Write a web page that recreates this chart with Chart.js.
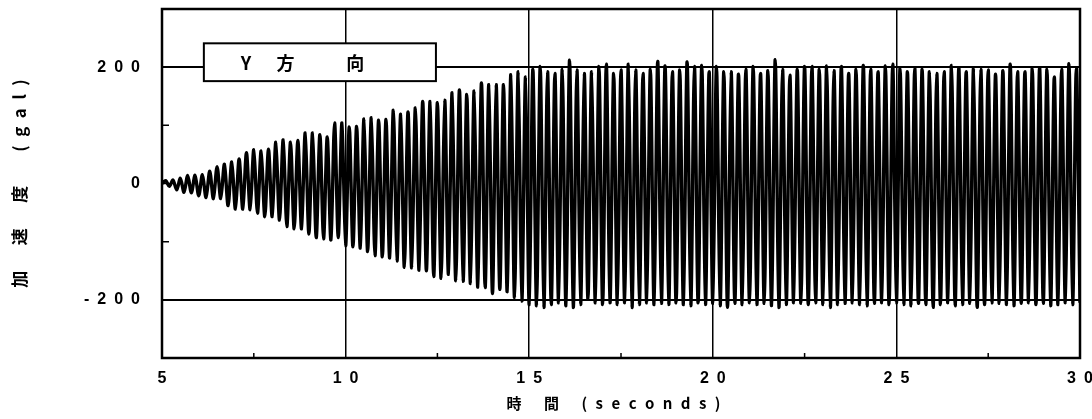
<!DOCTYPE html>
<html lang="ja">
<head>
<meta charset="utf-8"/>
<title>加速度 Y方向</title>
<script src="https://cdn.jsdelivr.net/npm/chart.js@4.4.0/dist/chart.umd.min.js"></script>
<style>
  html, body { margin: 0; padding: 0; background: #fff; }
  #wrap { width: 1092px; height: 419px; }
</style>
</head>
<body>
<div id="wrap"><canvas id="accChart" width="1092" height="419"></canvas></div>
<script>
// 正側ピーク (gal) : 5.1 秒から 0.2 秒ごと
const peaks = [
  5, 6, 9, 14, 14, 15, 21, 29, 33, 37, 42, 53, 58, 56, 59, 71, 75, 71, 74, 87, 87, 84, 80, 104, 104,
  97, 98, 111, 113, 109, 110, 126, 119, 123, 130, 141, 141, 139, 143, 156, 161, 153, 159, 173, 170, 170, 170, 187, 192, 183,
  196, 201, 192, 189, 196, 212, 195, 189, 192, 201, 205, 189, 195, 205, 195, 189, 196, 210, 202, 192, 195, 209, 201, 203, 192,
  201, 192, 192, 188, 196, 201, 189, 194, 213, 196, 186, 196, 201, 201, 196, 202, 194, 201, 189, 196, 203, 196, 192, 202, 205,
  198, 192, 198, 196, 192, 189, 192, 203, 199, 192, 198, 196, 195, 188, 194, 205, 192, 192, 198, 199, 196, 183, 196, 206, 198
];
// 負側ピーク (gal) : 5.0 秒から 0.2 秒ごと
const troughs = [
  0, -5, -11, -15, -16, -21, -24, -26, -26, -38, -44, -44, -45, -51, -57, -57, -63, -74, -78, -78, -87, -93, -95, -97, -93,
  -107, -109, -111, -117, -124, -126, -128, -133, -144, -145, -149, -150, -160, -163, -156, -167, -168, -172, -178, -179, -189, -182, -186, -196, -202,
  -208, -210, -213, -208, -205, -210, -213, -208, -199, -205, -208, -205, -208, -205, -213, -208, -205, -208, -206, -208, -205, -208, -210, -205, -208,
  -206, -210, -213, -206, -208, -205, -208, -206, -210, -213, -208, -205, -206, -208, -205, -208, -213, -208, -206, -205, -208, -210, -206, -205, -208,
  -205, -208, -210, -206, -208, -213, -208, -205, -210, -208, -206, -213, -208, -205, -206, -208, -210, -206, -205, -208, -206, -210, -208, -205, -208,
  -205
];
const tStart = 5.0;
const halfStep = 0.1;
const labelTicksY = [-200, 0, 200];
const gridY = [-200, 200];
const minorX = [7.5, 12.5, 17.5, 22.5, 27.5];
const minorY = [-300, -200, -100, 0, 100, 200, 300];
const boxText = ['Y', '方', '向'];
const boxTextX = [7.29, 8.36, 10.26];

const spaced = s => String(s).split('').join('\u2002');

// 山と谷を交互に並べる
const points = [];
for (let k = 0; k < troughs.length; k++) {
  points.push({ x: +(tStart + 2 * k * halfStep).toFixed(2), y: troughs[k] });
  if (k < peaks.length) {
    points.push({ x: +(tStart + (2 * k + 1) * halfStep).toFixed(2), y: peaks[k] });
  }
}

const framePlugin = {
  id: 'frame',
  afterDatasetsDraw(chart) {
    const { ctx, chartArea: a, scales: { x, y } } = chart;
    ctx.save();
    ctx.strokeStyle = '#000';
    ctx.lineWidth = 1.5;
    ctx.beginPath();
    minorX.forEach(v => {
      const px = x.getPixelForValue(v);
      ctx.moveTo(px, a.bottom);
      ctx.lineTo(px, a.bottom - 5);
    });
    minorY.forEach(v => {
      const py = y.getPixelForValue(v);
      ctx.moveTo(a.left, py);
      ctx.lineTo(a.left + 7, py);
    });
    ctx.stroke();

    // 凡例枠
    const bx0 = x.getPixelForValue(6.14), bx1 = x.getPixelForValue(12.46);
    const by0 = y.getPixelForValue(241), by1 = y.getPixelForValue(176);
    ctx.fillStyle = '#fff';
    ctx.fillRect(bx0, by0, bx1 - bx0, by1 - by0);
    ctx.lineWidth = 2;
    ctx.strokeRect(bx0, by0, bx1 - bx0, by1 - by0);
    ctx.fillStyle = '#000';
    ctx.font = 'bold 18px "Noto Sans CJK JP", "Liberation Sans", sans-serif';
    ctx.textAlign = 'center';
    ctx.textBaseline = 'middle';
    boxText.forEach((t, i) => {
      ctx.fillText(t, x.getPixelForValue(boxTextX[i]), (by0 + by1) / 2 + 1);
    });

    ctx.lineWidth = 2.5;
    ctx.strokeRect(a.left, a.top, a.right - a.left, a.bottom - a.top);
    ctx.restore();
  }
};

new Chart(document.getElementById('accChart'), {
  type: 'line',
  data: {
    datasets: [{
      data: points,
      borderColor: '#000',
      borderWidth: 3.4,
      pointRadius: 0,
      tension: 0.3,
      fill: false
    }]
  },
  options: {
    responsive: false,
    animation: false,
    devicePixelRatio: 1,
    layout: { padding: { left: 0, right: 12, top: 9, bottom: 0 } },
    plugins: { legend: { display: false }, tooltip: { enabled: false } },
    scales: {
      x: {
        type: 'linear',
        min: 5,
        max: 30,
        afterFit: s => { s.height = 61; s.paddingLeft = 0; s.paddingRight = 0; },
        border: { display: false },
        grid: {
          drawTicks: false,
          lineWidth: 1.5,
          color: c => (c.tick && (c.tick.value === 5 || c.tick.value === 30)) ? 'rgba(0,0,0,0)' : '#000'
        },
        ticks: {
          stepSize: 5,
          autoSkip: false,
          maxRotation: 0,
          padding: 11,
          color: '#000',
          font: { family: '"Liberation Sans", Arial, sans-serif', size: 16, weight: 'bold' },
          callback: v => spaced(v)
        },
        title: {
          display: true,
          text: '時\u3000\u2002間\u3000\u2002(\u2002\u200as\u2002\u200ae\u2002\u200ac\u2002\u200ao\u2002\u200an\u2002\u200ad\u2002\u200as\u2002\u200a)\u3000',
          color: '#000',
          font: { family: '"Noto Sans CJK JP", "Liberation Sans", sans-serif', size: 15, weight: 'bold' },
          padding: { top: 0, bottom: 7 }
        }
      },
      y: {
        min: -300,
        max: 300,
        afterFit: s => { s.width = 162; s.paddingTop = 0; s.paddingBottom = 0; },
        border: { display: false },
        grid: {
          drawTicks: false,
          lineWidth: 2,
          color: c => (c.tick && gridY.includes(c.tick.value)) ? '#000' : 'rgba(0,0,0,0)'
        },
        ticks: {
          stepSize: 100,
          padding: 22,
          color: '#000',
          font: { family: '"Liberation Sans", Arial, sans-serif', size: 16, weight: 'bold' },
          callback: v => labelTicksY.includes(v) ? (v < 0 ? '-\u2002' + spaced(-v) : spaced(v)) : ''
        },
        title: {
          display: true,
          text: '加\u3000\u2002速\u3000\u2002度\u3000\u3000(\u2002g\u2002a\u2002l\u2002)',
          color: '#000',
          font: { family: '"Noto Sans CJK JP", "Liberation Sans", sans-serif', size: 17, weight: 'bold' },
          padding: { top: 9, bottom: 0 }
        }
      }
    }
  },
  plugins: [framePlugin]
});
</script>
</body>
</html>
